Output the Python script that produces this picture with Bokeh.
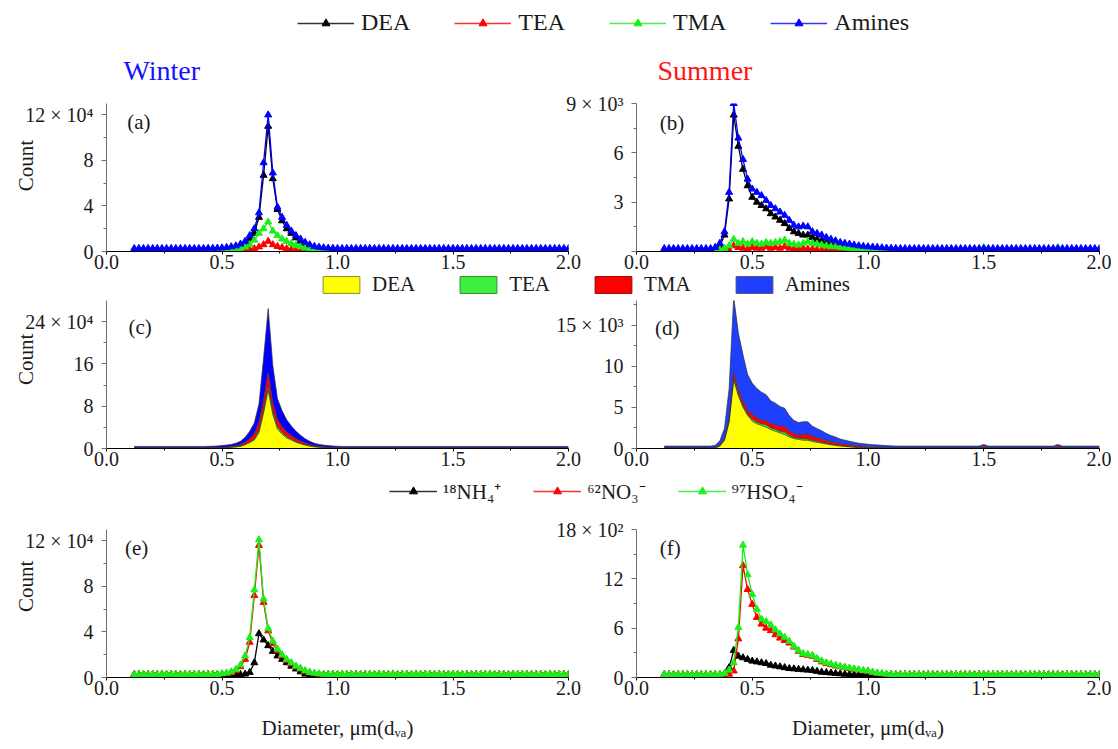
import numpy as np
from bokeh.plotting import figure
from bokeh.layouts import column, row
from bokeh.models import (ColumnDataSource, FixedTicker, Legend, LegendItem, Label,
                          NumeralTickFormatter, Range1d)
from bokeh.embed import file_html
from bokeh.resources import INLINE

FONT = "Liberation Serif"

# particle diameter bins (um, d_va)
DIAM = [round(0.12 + 0.02 * i, 2) for i in range(95)]

# ---------------- Winter amines (x 10^4) ----------------
A_DEA = [0.05, 0.05, 0.05, 0.05, 0.05, 0.05, 0.05, 0.05, 0.05, 0.05,
         0.05, 0.05, 0.05, 0.05, 0.05, 0.05, 0.06, 0.08, 0.1, 0.15,
         0.18, 0.22, 0.3, 0.4, 0.7, 1.1, 1.6, 3.0, 6.7, 11.0,
         6.4, 3.7, 2.7, 2.0, 1.6, 1.2, 0.9, 0.65, 0.45, 0.32,
         0.24, 0.18, 0.14, 0.1, 0.08, 0.06, 0.05, 0.05, 0.05, 0.05,
         0.05, 0.05, 0.05, 0.05, 0.05, 0.05, 0.05, 0.05, 0.05, 0.05,
         0.05, 0.05, 0.05, 0.05, 0.05, 0.05, 0.05, 0.05, 0.05, 0.05,
         0.05, 0.05, 0.05, 0.05, 0.05, 0.05, 0.05, 0.05, 0.05, 0.05,
         0.05, 0.05, 0.05, 0.05, 0.05, 0.05, 0.05, 0.05, 0.05, 0.05,
         0.05, 0.05, 0.05, 0.05, 0.05]
A_TEA = [0.03, 0.03, 0.03, 0.03, 0.03, 0.03, 0.03, 0.03, 0.03, 0.03,
         0.03, 0.03, 0.03, 0.03, 0.03, 0.03, 0.03, 0.03, 0.03, 0.03,
         0.03, 0.04, 0.05, 0.07, 0.1, 0.15, 0.25, 0.4, 0.6, 0.9,
         0.6, 0.45, 0.35, 0.25, 0.18, 0.13, 0.1, 0.08, 0.06, 0.04,
         0.03, 0.03, 0.03, 0.03, 0.03, 0.03, 0.03, 0.03, 0.03, 0.03,
         0.03, 0.03, 0.03, 0.03, 0.03, 0.03, 0.03, 0.03, 0.03, 0.03,
         0.03, 0.03, 0.03, 0.03, 0.03, 0.03, 0.03, 0.03, 0.03, 0.03,
         0.03, 0.03, 0.03, 0.03, 0.03, 0.03, 0.03, 0.03, 0.03, 0.03,
         0.03, 0.03, 0.03, 0.03, 0.03, 0.03, 0.03, 0.03, 0.03, 0.03,
         0.03, 0.03, 0.03, 0.03, 0.03]
A_TMA = [0.04, 0.04, 0.04, 0.04, 0.04, 0.04, 0.04, 0.04, 0.04, 0.04,
         0.04, 0.04, 0.04, 0.04, 0.04, 0.04, 0.04, 0.04, 0.05, 0.06,
         0.08, 0.1, 0.15, 0.25, 0.4, 0.6, 1.0, 1.6, 2.0, 2.6,
         1.8, 1.4, 1.1, 0.9, 0.7, 0.55, 0.42, 0.32, 0.24, 0.18,
         0.13, 0.1, 0.08, 0.06, 0.05, 0.04, 0.04, 0.04, 0.04, 0.04,
         0.04, 0.04, 0.04, 0.04, 0.04, 0.04, 0.04, 0.04, 0.04, 0.04,
         0.04, 0.04, 0.04, 0.04, 0.04, 0.04, 0.04, 0.04, 0.04, 0.04,
         0.04, 0.04, 0.04, 0.04, 0.04, 0.04, 0.04, 0.04, 0.04, 0.04,
         0.04, 0.04, 0.04, 0.04, 0.04, 0.04, 0.04, 0.04, 0.04, 0.04,
         0.04, 0.04, 0.04, 0.04, 0.04]
A_AMI = [0.27, 0.27, 0.27, 0.27, 0.27, 0.27, 0.27, 0.27, 0.27, 0.27,
         0.27, 0.27, 0.27, 0.27, 0.27, 0.27, 0.28, 0.29, 0.3, 0.32,
         0.36, 0.42, 0.5, 0.65, 0.9, 1.4, 2.0, 3.4, 7.8, 12.0,
         6.9, 3.9, 3.0, 2.3, 1.8, 1.4, 1.1, 0.8, 0.6, 0.45,
         0.38, 0.33, 0.3, 0.28, 0.27, 0.27, 0.27, 0.27, 0.27, 0.27,
         0.27, 0.27, 0.27, 0.27, 0.27, 0.27, 0.27, 0.27, 0.27, 0.27,
         0.27, 0.27, 0.27, 0.27, 0.27, 0.27, 0.27, 0.27, 0.27, 0.27,
         0.27, 0.27, 0.27, 0.27, 0.27, 0.27, 0.27, 0.27, 0.27, 0.27,
         0.27, 0.27, 0.27, 0.27, 0.27, 0.27, 0.27, 0.27, 0.27, 0.27,
         0.27, 0.27, 0.27, 0.27, 0.27]

# ---------------- Summer amines (x 10^3) ----------------
B_DEA = [0.04, 0.04, 0.04, 0.04, 0.04, 0.04, 0.04, 0.04, 0.04, 0.04,
         0.04, 0.06, 0.3, 1.0, 3.2, 8.3, 6.4, 5.0, 4.0, 3.3,
         3.0, 2.8, 2.6, 2.3, 2.1, 1.9, 1.7, 1.4, 1.2, 1.1,
         1.0, 1.0, 0.85, 0.75, 0.65, 0.55, 0.45, 0.38, 0.3, 0.25,
         0.2, 0.15, 0.12, 0.1, 0.08, 0.07, 0.06, 0.05, 0.05, 0.04,
         0.04, 0.04, 0.04, 0.04, 0.04, 0.04, 0.04, 0.04, 0.04, 0.04,
         0.04, 0.04, 0.04, 0.04, 0.04, 0.04, 0.04, 0.04, 0.04, 0.04,
         0.04, 0.04, 0.04, 0.04, 0.04, 0.04, 0.04, 0.04, 0.04, 0.04,
         0.04, 0.04, 0.04, 0.04, 0.04, 0.04, 0.04, 0.04, 0.04, 0.04,
         0.04, 0.04, 0.04, 0.04, 0.04]
B_TEA = [0.03, 0.03, 0.03, 0.03, 0.03, 0.03, 0.03, 0.03, 0.03, 0.03,
         0.03, 0.03, 0.03, 0.05, 0.1, 0.35, 0.25, 0.2, 0.15, 0.25,
         0.2, 0.2, 0.3, 0.2, 0.25, 0.2, 0.3, 0.2, 0.15, 0.15,
         0.2, 0.15, 0.15, 0.12, 0.1, 0.08, 0.07, 0.06, 0.05, 0.04,
         0.03, 0.03, 0.03, 0.03, 0.03, 0.03, 0.03, 0.03, 0.03, 0.03,
         0.03, 0.03, 0.03, 0.03, 0.03, 0.03, 0.03, 0.03, 0.03, 0.03,
         0.03, 0.03, 0.03, 0.03, 0.03, 0.03, 0.03, 0.03, 0.03, 0.03,
         0.03, 0.03, 0.03, 0.03, 0.03, 0.03, 0.03, 0.03, 0.03, 0.03,
         0.03, 0.03, 0.03, 0.03, 0.03, 0.03, 0.03, 0.03, 0.03, 0.03,
         0.03, 0.03, 0.03, 0.03, 0.03]
B_TMA = [0.04, 0.04, 0.04, 0.04, 0.04, 0.04, 0.04, 0.04, 0.04, 0.04,
         0.04, 0.05, 0.1, 0.2, 0.35, 0.75, 0.5, 0.6, 0.45, 0.6,
         0.5, 0.45, 0.55, 0.5, 0.55, 0.6, 0.7, 0.5, 0.45, 0.4,
         0.5, 0.6, 0.5, 0.45, 0.4, 0.35, 0.3, 0.3, 0.25, 0.22,
         0.2, 0.18, 0.15, 0.13, 0.12, 0.1, 0.1, 0.08, 0.06, 0.05,
         0.04, 0.04, 0.04, 0.04, 0.04, 0.04, 0.04, 0.04, 0.04, 0.04,
         0.04, 0.04, 0.04, 0.04, 0.04, 0.04, 0.04, 0.04, 0.04, 0.24,
         0.04, 0.04, 0.04, 0.04, 0.04, 0.04, 0.04, 0.04, 0.04, 0.04,
         0.04, 0.04, 0.04, 0.04, 0.04, 0.24, 0.04, 0.04, 0.04, 0.04,
         0.04, 0.04, 0.04, 0.04, 0.04]
B_AMI = [0.18, 0.18, 0.18, 0.18, 0.18, 0.18, 0.18, 0.18, 0.18, 0.18,
         0.18, 0.25, 0.5, 1.2, 3.6, 9.0, 6.9, 5.6, 4.4, 3.8,
         3.6, 3.4, 3.1, 2.8, 2.6, 2.4, 2.2, 1.9, 1.6, 1.5,
         1.55, 1.5, 1.2, 1.1, 1.0, 0.85, 0.75, 0.65, 0.55, 0.5,
         0.45, 0.4, 0.35, 0.32, 0.29, 0.27, 0.25, 0.23, 0.21, 0.2,
         0.19, 0.18, 0.18, 0.18, 0.18, 0.18, 0.18, 0.18, 0.18, 0.18,
         0.18, 0.18, 0.18, 0.18, 0.18, 0.18, 0.18, 0.18, 0.18, 0.18,
         0.18, 0.18, 0.18, 0.18, 0.18, 0.18, 0.18, 0.18, 0.18, 0.18,
         0.18, 0.18, 0.18, 0.18, 0.18, 0.18, 0.18, 0.18, 0.18, 0.18,
         0.18, 0.18, 0.18, 0.18, 0.18]

# ---------------- Winter ions (x 10^4) ----------------
E_NH4 = [0.27, 0.27, 0.27, 0.27, 0.27, 0.27, 0.27, 0.27, 0.27, 0.27,
         0.27, 0.27, 0.27, 0.27, 0.27, 0.27, 0.27, 0.27, 0.27, 0.27,
         0.27, 0.27, 0.27, 0.27, 0.3, 0.45, 1.3, 3.85, 3.3, 2.8,
         2.3, 1.9, 1.6, 1.3, 1.0, 0.75, 0.5, 0.3, 0.27, 0.27,
         0.27, 0.27, 0.27, 0.27, 0.27, 0.27, 0.27, 0.27, 0.27, 0.27,
         0.27, 0.27, 0.27, 0.27, 0.27, 0.27, 0.27, 0.27, 0.27, 0.27,
         0.27, 0.27, 0.27, 0.27, 0.27, 0.27, 0.27, 0.27, 0.27, 0.27,
         0.27, 0.27, 0.27, 0.27, 0.27, 0.27, 0.27, 0.27, 0.27, 0.27,
         0.27, 0.27, 0.27, 0.27, 0.27, 0.27, 0.27, 0.27, 0.27, 0.27,
         0.27, 0.27, 0.27, 0.27, 0.27]
E_NO3 = [0.27, 0.27, 0.27, 0.27, 0.27, 0.27, 0.27, 0.27, 0.27, 0.27,
         0.27, 0.27, 0.27, 0.27, 0.27, 0.27, 0.27, 0.27, 0.27, 0.3,
         0.35, 0.42, 0.6, 0.95, 1.6, 3.1, 7.2, 11.6, 6.6, 4.1,
         3.0, 2.35, 1.9, 1.5, 1.2, 0.95, 0.75, 0.55, 0.42, 0.35,
         0.3, 0.28, 0.27, 0.27, 0.27, 0.27, 0.27, 0.27, 0.27, 0.27,
         0.27, 0.27, 0.27, 0.27, 0.27, 0.27, 0.27, 0.27, 0.27, 0.27,
         0.27, 0.27, 0.27, 0.27, 0.27, 0.27, 0.27, 0.27, 0.27, 0.27,
         0.27, 0.27, 0.27, 0.27, 0.27, 0.27, 0.27, 0.27, 0.27, 0.27,
         0.27, 0.27, 0.27, 0.27, 0.27, 0.27, 0.27, 0.27, 0.27, 0.27,
         0.27, 0.27, 0.27, 0.27, 0.27]
E_HSO4 = [0.27, 0.27, 0.27, 0.27, 0.27, 0.27, 0.27, 0.27, 0.27, 0.27,
          0.27, 0.27, 0.27, 0.27, 0.27, 0.27, 0.27, 0.27, 0.27, 0.35,
          0.4, 0.5, 0.7, 1.1, 1.9, 3.5, 7.7, 12.1, 6.9, 4.3,
          3.2, 2.5, 2.0, 1.6, 1.3, 1.0, 0.8, 0.6, 0.45, 0.38,
          0.32, 0.29, 0.27, 0.27, 0.27, 0.27, 0.27, 0.27, 0.27, 0.27,
          0.27, 0.27, 0.27, 0.27, 0.27, 0.27, 0.27, 0.27, 0.27, 0.27,
          0.27, 0.27, 0.27, 0.27, 0.27, 0.27, 0.27, 0.27, 0.27, 0.27,
          0.27, 0.27, 0.27, 0.27, 0.27, 0.27, 0.27, 0.27, 0.27, 0.27,
          0.27, 0.27, 0.27, 0.27, 0.27, 0.27, 0.27, 0.27, 0.27, 0.27,
          0.27, 0.27, 0.27, 0.27, 0.27]

# ---------------- Summer ions (x 10^2) ----------------
F_NH4 = [0.35, 0.35, 0.35, 0.35, 0.35, 0.35, 0.35, 0.35, 0.35, 0.35,
         0.35, 0.35, 0.35, 0.4, 1.2, 3.3, 2.6, 2.4, 2.2, 2.0,
         1.9, 1.8, 1.7, 1.5, 1.4, 1.3, 1.2, 1.1, 1.05, 1.0,
         0.95, 0.9, 0.85, 0.75, 0.65, 0.6, 0.55, 0.5, 0.45, 0.4,
         0.38, 0.36, 0.35, 0.35, 0.35, 0.35, 0.35, 0.35, 0.35, 0.35,
         0.35, 0.35, 0.35, 0.35, 0.35, 0.35, 0.35, 0.35, 0.35, 0.35,
         0.35, 0.35, 0.35, 0.35, 0.35, 0.35, 0.35, 0.35, 0.35, 0.35,
         0.35, 0.35, 0.35, 0.35, 0.35, 0.35, 0.35, 0.35, 0.35, 0.35,
         0.35, 0.35, 0.35, 0.35, 0.35, 0.35, 0.35, 0.35, 0.35, 0.35,
         0.35, 0.35, 0.35, 0.35, 0.35]
F_NO3 = [0.35, 0.35, 0.35, 0.35, 0.35, 0.35, 0.35, 0.35, 0.35, 0.35,
         0.35, 0.35, 0.35, 0.35, 0.4, 0.8, 4.7, 13.6, 10.7, 8.9,
         7.3, 6.5, 6.0, 5.7, 5.2, 4.8, 4.5, 4.2, 3.7, 3.2,
         2.8, 2.7, 2.6, 2.2, 1.9, 1.7, 1.55, 1.4, 1.3, 1.2,
         1.1, 1.0, 0.9, 0.8, 0.75, 0.6, 0.5, 0.45, 0.4, 0.37,
         0.35, 0.35, 0.35, 0.35, 0.35, 0.35, 0.35, 0.35, 0.35, 0.35,
         0.35, 0.35, 0.35, 0.35, 0.35, 0.35, 0.35, 0.35, 0.35, 0.35,
         0.35, 0.35, 0.35, 0.35, 0.35, 0.35, 0.35, 0.35, 0.35, 0.35,
         0.35, 0.35, 0.35, 0.35, 0.35, 0.35, 0.35, 0.35, 0.35, 0.35,
         0.35, 0.35, 0.35, 0.35, 0.35]
F_HSO4 = [0.35, 0.35, 0.35, 0.35, 0.35, 0.35, 0.35, 0.35, 0.35, 0.35,
          0.35, 0.35, 0.4, 0.5, 0.9, 1.8, 6.1, 16.1, 12.5, 10.1,
          8.3, 7.1, 6.8, 6.4, 5.8, 5.3, 4.9, 4.4, 3.8, 3.3,
          2.9, 2.8, 2.7, 2.3, 2.0, 1.8, 1.65, 1.5, 1.35, 1.25,
          1.15, 1.05, 0.95, 0.85, 0.8, 0.65, 0.55, 0.48, 0.42, 0.38,
          0.36, 0.35, 0.35, 0.35, 0.35, 0.35, 0.35, 0.35, 0.35, 0.35,
          0.35, 0.35, 0.35, 0.35, 0.35, 0.35, 0.35, 0.35, 0.35, 0.35,
          0.35, 0.35, 0.35, 0.35, 0.35, 0.35, 0.35, 0.35, 0.35, 0.35,
          0.35, 0.35, 0.35, 0.35, 0.35, 0.35, 0.35, 0.35, 0.35, 0.35,
          0.35, 0.35, 0.35, 0.35, 0.35]

AMINE_NAMES = ["DEA", "TEA", "TMA", "Amines"]
AMINE_LINE_COLORS = ["#000000", "#ff0000", "#19f019", "#0000ff"]
AMINE_FILL_COLORS = ["#ffff00", "#33e833", "#ff0000"]
ION_NAMES = ["\u00b9\u2078NH\u2084\u207a", "\u2076\u00b2NO\u2083\u207b", "\u2079\u2077HSO\u2084\u207b"]
ION_COLORS = ["#000000", "#ff0000", "#19f019"]

srcA = ColumnDataSource(dict(x=DIAM, DEA=A_DEA, TEA=A_TEA, TMA=A_TMA, Amines=A_AMI))
srcB = ColumnDataSource(dict(x=DIAM, DEA=B_DEA, TEA=B_TEA, TMA=B_TMA, Amines=B_AMI))
srcE = ColumnDataSource(dict(x=DIAM, NH4=E_NH4, NO3=E_NO3, HSO4=E_HSO4))
srcF = ColumnDataSource(dict(x=DIAM, NH4=F_NH4, NO3=F_NO3, HSO4=F_HSO4))

CNT_W = 40
LEFT_BL, FRAME_W, LEFT_BR = 106, 462, 14
RIGHT_BL, RIGHT_BR = 86, 12
LEFT_W = LEFT_BL + FRAME_W + LEFT_BR            # 582
RIGHT_W = RIGHT_BL + FRAME_W + 1 + RIGHT_BR     # 561
OVERLAP = 32


def blank(width, height, xr=(0, 1), yr=(0, 1)):
    p = figure(width=width, height=height, x_range=Range1d(*xr), y_range=Range1d(*yr),
               toolbar_location=None, output_backend="svg", x_axis_location=None,
               y_axis_location=None, min_border=0)
    p.outline_line_color = None
    p.grid.visible = False
    p.border_fill_color = None
    p.background_fill_color = None
    return p


def count_fig(height, y_from_top):
    p = blank(CNT_W, height, (0, CNT_W), (0, height))
    p.add_layout(Label(x=25, y=height - y_from_top, text="Count", angle=np.pi / 2,
                       text_font=FONT, text_font_size="21px", text_color="#1a1a1a",
                       text_align="center", text_baseline="middle"))
    return p


def panel(left_side, height, top, bottom, ymax, yticks, yminor, overrides):
    if left_side:
        w, bl, br = LEFT_W, LEFT_BL, LEFT_BR
    else:
        w, bl, br = RIGHT_W, RIGHT_BL, RIGHT_BR
    p = figure(width=w, height=height, x_range=Range1d(0, 2), y_range=Range1d(0, ymax),
               toolbar_location=None, output_backend="svg",
               min_border_left=bl, min_border_right=br,
               min_border_top=top, min_border_bottom=bottom)
    p.margin = (0, 0, 0, -CNT_W) if left_side else (0, 0, 0, -OVERLAP)
    p.grid.visible = False
    p.outline_line_color = None
    p.background_fill_color = None
    p.border_fill_color = None
    p.xaxis.ticker = FixedTicker(ticks=[0, 0.5, 1.0, 1.5, 2.0],
                                 minor_ticks=[0.25, 0.75, 1.25, 1.75])
    p.xaxis.formatter = NumeralTickFormatter(format="0.0")
    p.yaxis.ticker = FixedTicker(ticks=yticks, minor_ticks=yminor)
    p.yaxis.major_label_overrides = overrides
    for ax in p.axis:
        ax.major_label_text_font = FONT
        ax.major_label_text_font_size = "20px"
        ax.major_label_text_color = "#1a1a1a"
        ax.axis_label_text_font = FONT
        ax.axis_label_text_font_style = "normal"
        ax.axis_label_text_font_size = "21px"
        ax.axis_label_text_color = "#1a1a1a"
        ax.major_tick_in = 0
        ax.minor_tick_in = 0
    p.xaxis.major_tick_out = 3
    p.xaxis.minor_tick_out = 2
    p.xaxis.major_label_standoff = 0
    p.xaxis.axis_line_color = "#000000"
    p.yaxis.major_tick_out = 5
    p.yaxis.minor_tick_out = 3
    p.yaxis.major_label_standoff = 8
    p.yaxis.axis_line_color = "#707070"
    p.yaxis.major_tick_line_color = "#707070"
    p.yaxis.minor_tick_line_color = "#707070"
    return p


def tag(p, x, y, text):
    p.add_layout(Label(x=x, y=y, text=text, text_font=FONT, text_font_size="21px",
                       text_color="#1a1a1a", text_align="left", text_baseline="middle"))


def line_series(p, src, col, color):
    p.line("x", col, source=src, line_color=color, line_width=1.3)
    p.scatter("x", col, source=src, marker="triangle", size=7,
              fill_color=color, line_color=color)


def line_legend(p, names, colors, loc, glyph_w, standoff, spacing, fsize):
    dummy = ColumnDataSource(dict(x=[-1000.0], y=[-1000.0]))
    items = []
    for name, col in zip(names, colors):
        l = p.line("x", "y", source=dummy, line_color=col, line_width=1.6, line_alpha=0.8)
        m = p.scatter("x", "y", source=dummy, marker="triangle", size=8, color=col)
        items.append(LegendItem(label=name, renderers=[l, m]))
    p.add_layout(Legend(items=items, orientation="horizontal", location=loc,
                        glyph_width=glyph_w, glyph_height=20, label_standoff=standoff,
                        spacing=spacing, padding=0, margin=0, border_line_alpha=0,
                        background_fill_alpha=0, label_text_font=FONT,
                        label_text_font_size=fsize, label_text_color="#1a1a1a"))


# ---------------- top strip: legend + season titles ----------------
T = blank(1110, 88, (0, 1110), (0, 88))
line_legend(T, AMINE_NAMES, AMINE_LINE_COLORS, (297, 52), 57, 7, 44, "24px")
T.add_layout(Label(x=123, y=18, text="Winter", text_font=FONT, text_font_size="28px",
                   text_color="#1414ff", text_baseline="middle"))
T.add_layout(Label(x=657, y=18, text="Summer", text_font=FONT, text_font_size="28px",
                   text_color="#ff1414", text_baseline="middle"))

# ---------------- row 1: lines (a) winter, (b) summer ----------------
H1 = 191
pa = panel(True, H1, 15, 28, 13, [0, 4, 8, 12], [2, 6, 10], {12: "12 \u00d7 10\u2074"})
for name, col in zip(AMINE_NAMES, AMINE_LINE_COLORS):
    line_series(pa, srcA, name, col)
tag(pa, 0.09, 11.4, "(a)")

pb = panel(False, H1, 15, 28, 9, [0, 3, 6, 9], [1.5, 4.5, 7.5], {0: "", 9: "9 \u00d7 10\u00b3"})
for name, col in zip(AMINE_NAMES, AMINE_LINE_COLORS):
    line_series(pb, srcB, name, col)
tag(pb, 0.1, 7.8, "(b)")

# ---------------- legend strip for stacked areas ----------------
L2 = blank(1110, 28)
L2.margin = (-7, 0, 0, 0)
box_fill = ["#ffff00", "#40f040", "#ff0000", "#1f3fff"]
box_line = ["#8c8c30", "#2e8a2e", "#a00000", "#505070"]
items2 = []
for name, fc, lc in zip(AMINE_NAMES, box_fill, box_line):
    q = L2.quad(left=[-10], right=[-9], top=[-9], bottom=[-10],
                fill_color=fc, line_color=lc, line_width=1)
    items2.append(LegendItem(label=name, renderers=[q]))
L2.add_layout(Legend(items=items2, orientation="horizontal", location=(318, 3),
                     glyph_width=46, glyph_height=21, label_standoff=8, spacing=40,
                     padding=0, margin=0, border_line_alpha=0, background_fill_alpha=0,
                     label_text_font=FONT, label_text_font_size="21px",
                     label_text_color="#1a1a1a"))

# ---------------- row 2: stacked areas (c) winter, (d) summer ----------------
H2 = 176
pc = panel(True, H2, 0, 28, 28, [0, 8, 16, 24], [4, 12, 20], {24: "24 \u00d7 10\u2074"})
pc.varea_stack(stackers=AMINE_NAMES, x="x", source=srcA,
               color=AMINE_FILL_COLORS + ["#0000ff"])
pc.vline_stack(stackers=AMINE_NAMES, x="x", source=srcA,
               color=["#303030"] * 4, line_width=0.7)
tag(pc, 0.095, 22.9, "(c)")

pd = panel(False, H2, 0, 28, 18, [0, 5, 10, 15], [2.5, 7.5, 12.5, 17.5], {15: "15 \u00d7 10\u00b3"})
pd.varea_stack(stackers=AMINE_NAMES, x="x", source=srcB,
               color=AMINE_FILL_COLORS + ["#1f3fff"])
pd.vline_stack(stackers=AMINE_NAMES, x="x", source=srcB,
               color=["#303030"] * 4, line_width=0.7)
tag(pd, 0.08, 14.7, "(d)")

# ---------------- legend strip for ions ----------------
L3 = blank(1110, 37)
line_legend(L3, ION_NAMES, ION_COLORS, (389, 8), 48, 6, 32, "21px")

# ---------------- row 3: ions (e) winter, (f) summer ----------------
H3 = 234
XLABEL = "Diameter, \u03bcm(d\u1d65\u2090)"
pe = panel(True, H3, 16, 70, 13, [0, 4, 8, 12], [2, 6, 10], {12: "12 \u00d7 10\u2074"})
for name, col in zip(["NH4", "NO3", "HSO4"], ION_COLORS):
    line_series(pe, srcE, name, col)
tag(pe, 0.08, 11.4, "(e)")
pe.xaxis.axis_label = XLABEL
pe.xaxis.axis_label_standoff = 18

pf = panel(False, H3, 16, 70, 18, [0, 6, 12, 18], [3, 9, 15], {18: "18 \u00d7 10\u00b2"})
for name, col in zip(["NH4", "NO3", "HSO4"], ION_COLORS):
    line_series(pf, srcF, name, col)
tag(pf, 0.1, 15.8, "(f)")
pf.xaxis.axis_label = XLABEL
pf.xaxis.axis_label_standoff = 18

layout = column(
    T,
    row(count_fig(H1, 80), pa, pb),
    L2,
    row(count_fig(H2, 70), pc, pd),
    L3,
    row(count_fig(H3, 90), pe, pf),
)
open("out.html", "w").write(file_html(layout, INLINE, title="Amines and ions size distributions"))
